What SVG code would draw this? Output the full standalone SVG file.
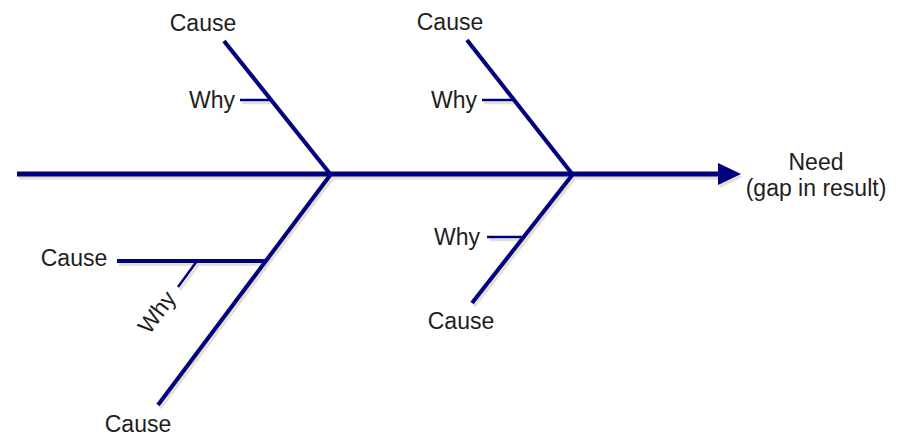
<svg xmlns="http://www.w3.org/2000/svg" xmlns:xlink="http://www.w3.org/1999/xlink" width="900" height="444" viewBox="0 0 900 444">
  <style>
    .spine { stroke-width: 5; fill: none; }
    .bone { stroke-width: 4; fill: none; stroke-linecap: butt; }
    .tick { stroke-width: 2.5; fill: none; }
    .head { stroke: none; }
    .main { stroke: #000080; fill: #000080; }
    .shadow { stroke: #e4e1d2; fill: #e4e1d2; }
    text { font-family: "Liberation Sans", Arial, sans-serif; font-size: 23px; fill: #1e1e1e; stroke: none; }
    .c { text-anchor: middle; }
    .e { text-anchor: end; }
  </style>
  <rect width="900" height="444" fill="#ffffff"/>
  <defs>
    <g id="lines">
      <line class="spine" x1="17" y1="174" x2="720" y2="174"/>
      <polygon class="head" points="718,163 741,174 718,185"/>
      <line class="bone" x1="224" y1="41" x2="331" y2="175"/>
      <line class="bone" x1="331" y1="174" x2="158" y2="405"/>
      <line class="bone" x1="117" y1="261" x2="266" y2="261"/>
      <line class="bone" x1="467" y1="40" x2="573" y2="175"/>
      <line class="bone" x1="573" y1="174" x2="472" y2="303"/>
      <line class="tick" x1="240" y1="100" x2="271" y2="100"/>
      <line class="tick" x1="482" y1="100" x2="514" y2="100"/>
      <line class="tick" x1="197" y1="261" x2="178" y2="287"/>
      <line class="tick" x1="487" y1="237" x2="523" y2="237"/>
    </g>
  </defs>
  <g id="connectors">
    <use xlink:href="#lines" class="shadow" transform="translate(2,3)"/>
    <use xlink:href="#lines" class="main"/>
  </g>
  <g id="need"><text class="c" x="816" y="170">Need</text><text class="c" x="816" y="196">(gap in result)</text></g>
  <g id="cause1"><text class="c" x="203" y="31">Cause</text></g>
  <g id="why1"><text class="e" x="235" y="108">Why</text></g>
  <g id="cause2"><text class="c" x="450" y="30">Cause</text></g>
  <g id="why2"><text class="e" x="477" y="108">Why</text></g>
  <g id="cause3"><text class="c" x="74" y="266">Cause</text></g>
  <g id="why3"><text class="c" transform="translate(163,317) rotate(-53)">Why</text></g>
  <g id="cause4"><text class="c" x="138" y="432">Cause</text></g>
  <g id="why4"><text class="e" x="480" y="245">Why</text></g>
  <g id="cause5"><text class="c" x="461" y="329">Cause</text></g>
</svg>
